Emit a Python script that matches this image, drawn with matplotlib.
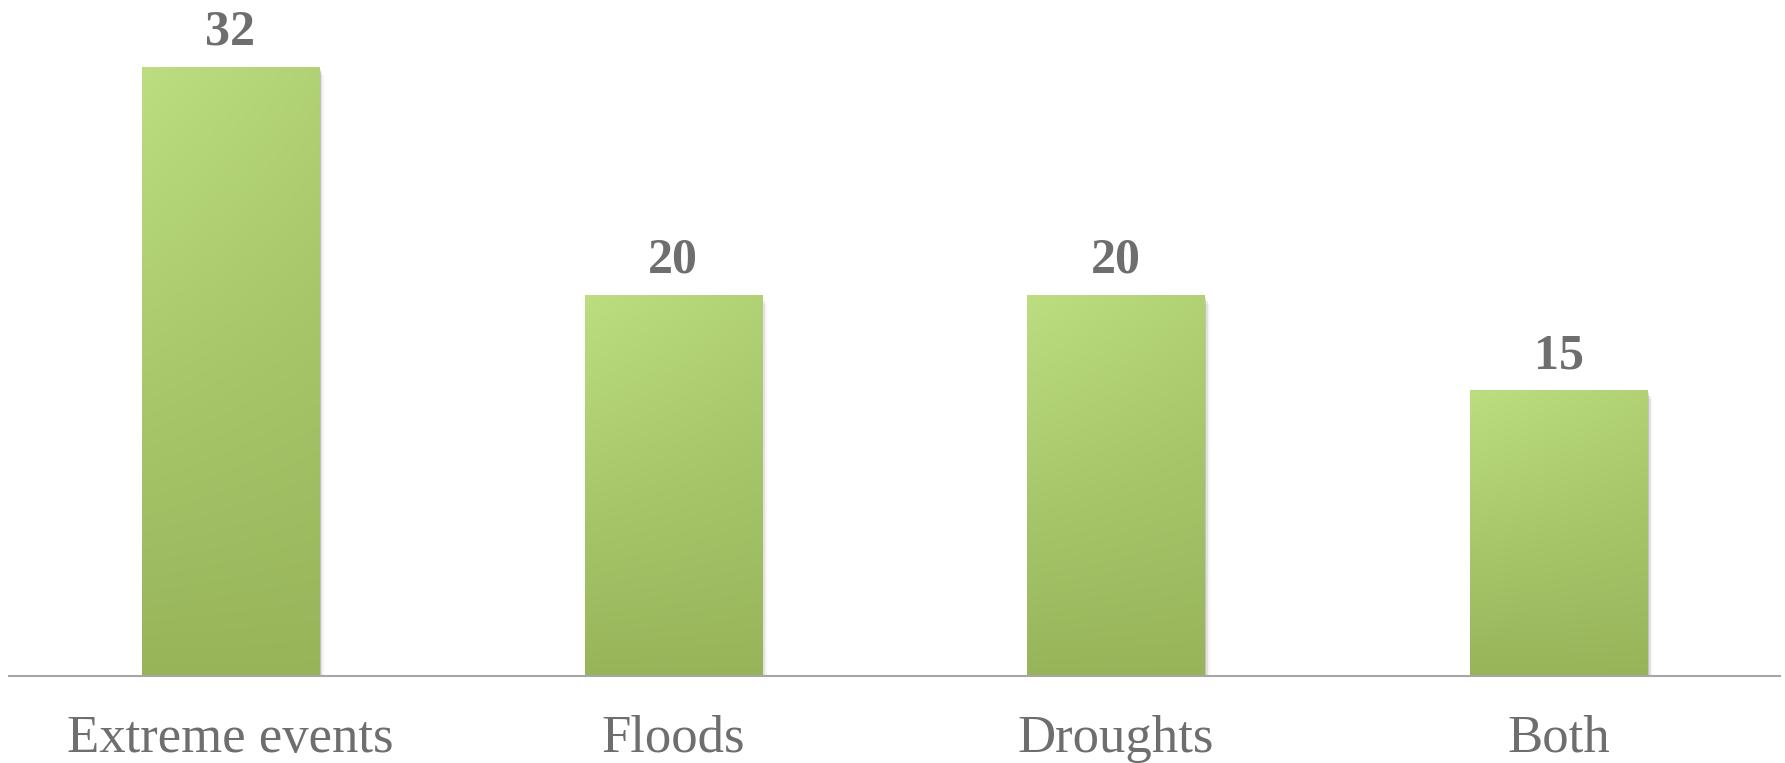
import matplotlib
matplotlib.use("Agg")
import matplotlib.pyplot as plt
import numpy as np

categories = ["Extreme events", "Floods", "Droughts", "Both"]
values = [32, 20, 20, 15]

text_color = "#6e6e6e"
top_rgb = np.array([188, 222, 128]) / 255.0
bottom_rgb = np.array([145, 173, 83]) / 255.0

fig = plt.figure(figsize=(17.85, 7.63), dpi=100)
ax = fig.add_axes([9 / 1785, 87 / 763, 1771 / 1785, 676 / 763])

x = np.arange(len(categories))
width = 0.40
bars = ax.bar(x, values, width=width, color="none", edgecolor="none", zorder=3)

# shading for each bar: light at top-left, darker towards the bottom
ny, nx = 200, 60
yy, xx = np.mgrid[0:1:ny * 1j, 0:1:nx * 1j]
t = np.clip(0.85 * yy + 0.25 * xx * (1 - yy), 0, 1)
grad = top_rgb[None, None, :] * (1 - t[..., None]) + bottom_rgb[None, None, :] * t[..., None]

for bar, v in zip(bars, values):
    x0 = bar.get_x()
    w = bar.get_width()
    # soft shadow
    for k, a in enumerate([0.14, 0.08, 0.04]):
        d = 0.004 * (k + 1)
        sh = plt.Rectangle((x0 + d, -0.15 * (k + 1)), w, v, color="black", alpha=a,
                           lw=0, zorder=2)
        ax.add_patch(sh)
    im = ax.imshow(grad, extent=(x0, x0 + w, 0, v), origin="upper", aspect="auto",
                   zorder=4, interpolation="bilinear")
    clip = plt.Rectangle((x0, 0), w, v, transform=ax.transData, fill=False, lw=0)
    ax.add_patch(clip)
    im.set_clip_path(clip)
    ax.annotate(str(v), (bar.get_x() + w / 2, v), xytext=(0, 16), textcoords="offset points",
                ha="center", va="baseline", fontsize=36, fontweight="bold",
                color=text_color, family="Liberation Serif", zorder=5)

ax.set_xlim(-0.5, len(categories) - 0.5)
ax.set_ylim(0, 35.5)
ax.set_xticks(x)
ax.set_xticklabels(categories, fontsize=38, color=text_color, family="Liberation Serif")
ax.tick_params(axis="x", length=0, pad=28)
ax.set_yticks([])
for s in ["top", "right", "left"]:
    ax.spines[s].set_visible(False)
ax.spines["bottom"].set_color("#a6a6a6")
ax.spines["bottom"].set_linewidth(1.5)
ax.spines["bottom"].set_zorder(6)

fig.savefig("out.png", dpi=100, facecolor="white")
